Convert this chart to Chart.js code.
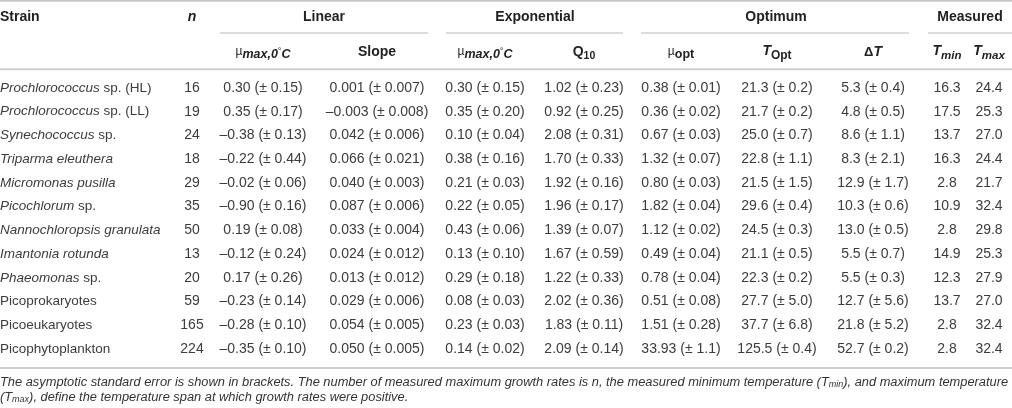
<!DOCTYPE html>
<html>
<head>
<meta charset="utf-8">
<title>Growth parameters table</title>
<script src="https://cdn.jsdelivr.net/npm/chart.js@4.4.0/dist/chart.umd.min.js"></script>
<style>
    html, body { margin: 0; padding: 0; background: #fff; }
    #wrap { width: 1012px; height: 408px; position: relative; }
</style>
</head>
<body>
<div id="wrap"><canvas id="growthTable"></canvas></div>
<script>
// Table data - one array per column
const strainItalic = ['Prochlorococcus', 'Prochlorococcus', 'Synechococcus', 'Triparma eleuthera',
    'Micromonas pusilla', 'Picochlorum', 'Nannochloropsis granulata', 'Imantonia rotunda',
    'Phaeomonas', '', '', ''];
const strainRoman = [' sp. (HL)', ' sp. (LL)', ' sp.', '', '', ' sp.', '', '', ' sp.',
    'Picoprokaryotes', 'Picoeukaryotes', 'Picophytoplankton'];
const nValues = ['16', '19', '24', '18', '29', '35', '50', '13', '20', '59', '165', '224'];
const linearMu = ['0.30 (± 0.15)', '0.35 (± 0.17)', '–0.38 (± 0.13)', '–0.22 (± 0.44)', '–0.02 (± 0.06)',
    '–0.90 (± 0.16)', '0.19 (± 0.08)', '–0.12 (± 0.24)', '0.17 (± 0.26)', '–0.23 (± 0.14)',
    '–0.28 (± 0.10)', '–0.35 (± 0.10)'];
const linearSlope = ['0.001 (± 0.007)', '–0.003 (± 0.008)', '0.042 (± 0.006)', '0.066 (± 0.021)',
    '0.040 (± 0.003)', '0.087 (± 0.006)', '0.033 (± 0.004)', '0.024 (± 0.012)', '0.013 (± 0.012)',
    '0.029 (± 0.006)', '0.054 (± 0.005)', '0.050 (± 0.005)'];
const expMu = ['0.30 (± 0.15)', '0.35 (± 0.20)', '0.10 (± 0.04)', '0.38 (± 0.16)', '0.21 (± 0.03)',
    '0.22 (± 0.05)', '0.43 (± 0.06)', '0.13 (± 0.10)', '0.29 (± 0.18)', '0.08 (± 0.03)',
    '0.23 (± 0.03)', '0.14 (± 0.02)'];
const expQ10 = ['1.02 (± 0.23)', '0.92 (± 0.25)', '2.08 (± 0.31)', '1.70 (± 0.33)', '1.92 (± 0.16)',
    '1.96 (± 0.17)', '1.39 (± 0.07)', '1.67 (± 0.59)', '1.22 (± 0.33)', '2.02 (± 0.36)',
    '1.83 (± 0.11)', '2.09 (± 0.14)'];
const optMu = ['0.38 (± 0.01)', '0.36 (± 0.02)', '0.67 (± 0.03)', '1.32 (± 0.07)', '0.80 (± 0.03)',
    '1.82 (± 0.04)', '1.12 (± 0.02)', '0.49 (± 0.04)', '0.78 (± 0.04)', '0.51 (± 0.08)',
    '1.51 (± 0.28)', '33.93 (± 1.1)'];
const optT = ['21.3 (± 0.2)', '21.7 (± 0.2)', '25.0 (± 0.7)', '22.8 (± 1.1)', '21.5 (± 1.5)',
    '29.6 (± 0.4)', '24.5 (± 0.3)', '21.1 (± 0.5)', '22.3 (± 0.2)', '27.7 (± 5.0)',
    '37.7 (± 6.8)', '125.5 (± 0.4)'];
const optDeltaT = ['5.3 (± 0.4)', '4.8 (± 0.5)', '8.6 (± 1.1)', '8.3 (± 2.1)', '12.9 (± 1.7)',
    '10.3 (± 0.6)', '13.0 (± 0.5)', '5.5 (± 0.7)', '5.5 (± 0.3)', '12.7 (± 5.6)',
    '21.8 (± 5.2)', '52.7 (± 0.2)'];
const measuredTmin = ['16.3', '17.5', '13.7', '16.3', '2.8', '10.9', '2.8', '14.9', '12.3', '13.7', '2.8', '2.8'];
const measuredTmax = ['24.4', '25.3', '27.0', '24.4', '21.7', '32.4', '29.8', '25.3', '27.9', '27.0', '32.4', '32.4'];

const groupLabels = ['Linear', 'Exponential', 'Optimum', 'Measured'];
const footnoteText = [
    ['The asymptotic standard error is shown in brackets. The number of measured maximum growth rates is n, the measured minimum temperature (T', 'min', '), and maximum temperature'],
    ['(T', 'max', '), define the temperature span at which growth rates were positive.']
];

// Layout (x axis runs 0..1012, y axis is the row index)
const FONT = '"Liberation Sans", Arial, Helvetica, sans-serif';
const ROW_Y = { group: -3, underline: -2.32, sub: -1.5, topRule: -3.68, headRule: -0.79, bottomRule: 11.8, foot1: 12.4, foot2: 13.04 };
const columns = [
    { x: 192, values: nValues },
    { x: 263, values: linearMu },
    { x: 377, values: linearSlope },
    { x: 485, values: expMu },
    { x: 584, values: expQ10 },
    { x: 681, values: optMu },
    { x: 777, values: optT },
    { x: 873, values: optDeltaT },
    { x: 947, values: measuredTmin },
    { x: 989, values: measuredTmax }
];
const groups = [
    { x: 324, from: 220, to: 428 },
    { x: 535, from: 446, to: 623 },
    { x: 776, from: 641, to: 909 },
    { x: 970, from: 928, to: 1012 }
];

const B = 'bold ', I = 'italic ', BI = 'italic bold ';
const subHeaders = [
    { x: 263, parts: [['12px', 'µ', -1], [BI + '12.5px', 'max,0', 2], ['9px', '°', -1], [BI + '12.5px', 'C', 2]] },
    { x: 377, parts: [[B + '14px', 'Slope', 0]] },
    { x: 485, parts: [['12px', 'µ', -1], [BI + '12.5px', 'max,0', 2], ['9px', '°', -1], [BI + '12.5px', 'C', 2]] },
    { x: 584, parts: [[B + '14px', 'Q', 0], [B + '10.5px', '10', 4]] },
    { x: 681, parts: [['12px', 'µ', -1], [B + '12.5px', 'opt', 2]] },
    { x: 777, parts: [[BI + '14px', 'T', -1], [B + '12px', 'Opt', 3]] },
    { x: 873, parts: [[B + '13px', 'Δ', 0], [BI + '14px', 'T', 0]] },
    { x: 947, parts: [[BI + '14px', 'T', -1], [BI + '11.5px', 'min', 3]] },
    { x: 989, parts: [[BI + '14px', 'T', -1], [BI + '11.5px', 'max', 3]] }
];

function drawRich(ctx, parts, x, y, align) {
    let width = 0;
    parts.forEach(p => { ctx.font = p[0] + ' ' + FONT; width += ctx.measureText(p[1]).width; });
    let cx = align === 'center' ? x - width / 2 : x;
    ctx.textAlign = 'left';
    parts.forEach(p => {
        ctx.font = p[0] + ' ' + FONT;
        ctx.fillText(p[1], cx, y + (p[2] || 0));
        cx += ctx.measureText(p[1]).width;
    });
}

function hLine(ctx, x1, x2, y, width, color) {
    ctx.beginPath();
    ctx.lineWidth = width;
    ctx.strokeStyle = color;
    ctx.moveTo(x1, y);
    ctx.lineTo(x2, y);
    ctx.stroke();
}

const tablePlugin = {
    id: 'tablePlugin',
    afterDatasetsDraw(chart) {
        const ctx = chart.ctx;
        const xs = chart.scales.x;
        const ys = chart.scales.y;
        const px = v => xs.getPixelForValue(v);
        const py = v => ys.getPixelForValue(v);
        ctx.save();
        ctx.textBaseline = 'middle';

        // rules
        hLine(ctx, px(0), px(1012), py(ROW_Y.topRule), 2, '#c8c8c8');
        hLine(ctx, px(0), px(1012), py(ROW_Y.headRule), 2, '#cfcfcf');
        hLine(ctx, px(0), px(1012), py(ROW_Y.bottomRule), 2, '#cfcfcf');
        groups.forEach(g => hLine(ctx, px(g.from), px(g.to), py(ROW_Y.underline), 1.5, '#d2d2d2'));

        // header text
        ctx.fillStyle = '#222';
        drawRich(ctx, [[B + '14px', 'Strain', 0]], px(0), py(ROW_Y.group), 'left');
        drawRich(ctx, [[BI + '14px', 'n', 0]], px(192), py(ROW_Y.group), 'center');
        groups.forEach((g, i) => drawRich(ctx, [[B + '14px', groupLabels[i], 0]], px(g.x), py(ROW_Y.group), 'center'));
        subHeaders.forEach(h => drawRich(ctx, h.parts, px(h.x), py(ROW_Y.sub), 'center'));

        // strain names from the first dataset's points
        ctx.fillStyle = '#3c3c3c';
        chart.getDatasetMeta(0).data.forEach((pt, i) => {
            const parts = [];
            if (strainItalic[i]) parts.push([I + '13.5px', strainItalic[i], 0]);
            if (strainRoman[i]) parts.push(['13.5px', strainRoman[i], 0]);
            drawRich(ctx, parts, pt.x, pt.y, 'left');
        });

        // cells
        ctx.font = '14px ' + FONT;
        ctx.textAlign = 'center';
        columns.forEach((col, c) => {
            chart.getDatasetMeta(c + 1).data.forEach((pt, i) => {
                ctx.fillText(col.values[i], pt.x, pt.y);
            });
        });

        // footnote
        ctx.fillStyle = '#333';
        footnoteText.forEach((line, k) => {
            const y = py(k === 0 ? ROW_Y.foot1 : ROW_Y.foot2);
            drawRich(ctx, [[I + '12.85px', line[0], 0], [I + '9px', line[1], 2], [I + '12.85px', line[2], 0]], px(0), y, 'left');
        });
        ctx.restore();
    }
};

const datasets = [{
    label: 'Strain',
    data: strainRoman.map((s, i) => ({ x: 0, y: i })),
    pointRadius: 0
}].concat(columns.map((col, c) => ({
    label: 'col' + c,
    data: col.values.map((v, i) => ({ x: col.x, y: i })),
    pointRadius: 0
})));

new Chart(document.getElementById('growthTable'), {
    type: 'scatter',
    data: { datasets: datasets },
    options: {
        responsive: true,
        maintainAspectRatio: false,
        animation: false,
        layout: { padding: 0 },
        plugins: { legend: { display: false }, tooltip: { enabled: false } },
        scales: {
            x: { type: 'linear', min: 0, max: 1012, display: false },
            y: { type: 'linear', min: -3.709, max: 13.487, reverse: true, display: false }
        }
    },
    plugins: [tablePlugin]
});
</script>
</body>
</html>
